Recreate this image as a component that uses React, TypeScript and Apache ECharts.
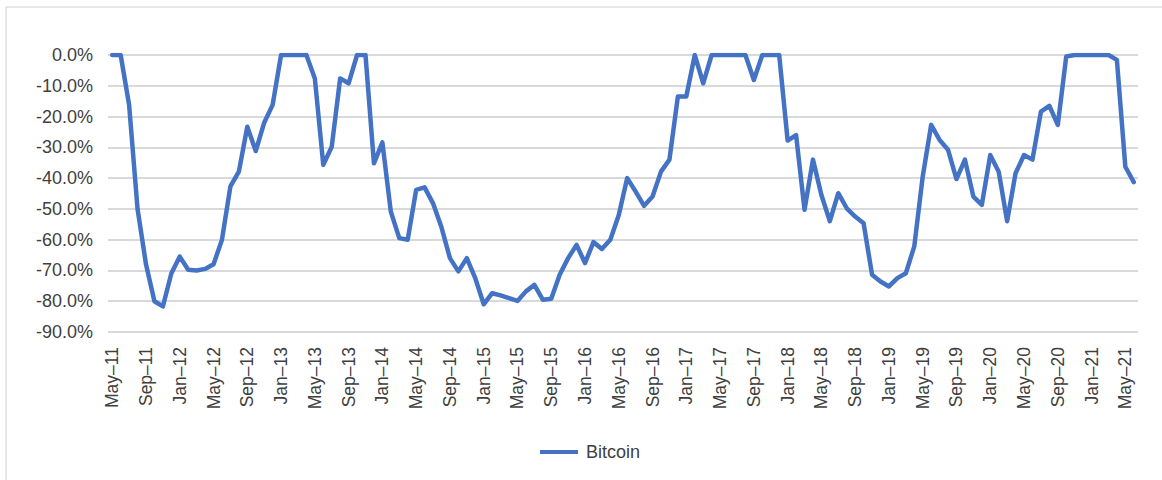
import React, { useEffect, useRef } from "react";
import * as echarts from "echarts";

const MONTHS = ["Jan", "Feb", "Mar", "Apr", "May", "Jun", "Jul", "Aug", "Sep", "Oct", "Nov", "Dec"];
const START_MONTH = 4; // May
const START_YEAR = 11;
const MONTH_COUNT = 122; // May-11 .. Jun-21

const categories: string[] = Array.from({ length: MONTH_COUNT }, (_, i) => {
  const m = START_MONTH + i;
  const y = START_YEAR + Math.floor(m / 12);
  return `${MONTHS[m % 12]}\u2013${y}`;
});

const seriesName = "Bitcoin";

const bitcoin: number[] = [
  0, 0, -16.2, -50, -68, -80, -81.7, -71, -65.5, -69.8,
  -70, -69.5, -68, -60, -42.7, -37.9, -23.3, -31.2, -22, -16.2,
  0, 0, 0, 0, -7.6, -35.7, -29.8, -7.6, -9.2, 0,
  0, -35.2, -28.4, -50.9, -59.5, -60, -43.8, -43, -48.2, -56,
  -66, -70.3, -66, -72.5, -81, -77.4, -78.1, -79, -79.9, -76.8,
  -74.7, -79.5, -79.2, -71.4, -66, -61.7, -67.6, -60.8, -63, -60,
  -52, -40, -44.4, -49, -46, -37.9, -34, -13.5, -13.5, 0,
  -9.2, 0, 0, 0, 0, 0, -8.1, 0, 0, 0,
  -27.8, -26, -50.3, -34, -45.5, -54, -44.9, -49.8, -52.5, -54.7,
  -71.4, -73.6, -75.2, -72.5, -70.9, -62.2, -39.5, -22.7, -27.6, -30.8,
  -40.3, -34, -46, -48.7, -32.5, -37.9, -54, -38.4, -32.5, -34,
  -18.4, -16.5, -22.7, -0.5, 0, 0, 0, 0, 0, -1.6,
  -36.3, -41.3,
];

const Y_MIN = -90;
const Y_MAX = 0;
const Y_STEP = 10;

export default function App() {
  const ref = useRef<HTMLDivElement>(null);

  useEffect(() => {
    if (!ref.current) return;
    const chart = echarts.init(ref.current, null, { renderer: "svg" });
    const font = "Liberation Sans, Arial, Helvetica, sans-serif";
    chart.setOption({
      animation: false,
      backgroundColor: "#ffffff",
      textStyle: { fontFamily: font },
      graphic: [
        {
          type: "rect",
          shape: { x: 6, y: 7, width: 1200, height: 500 },
          style: { fill: "none", stroke: "#d0d0d0", lineWidth: 1 },
          silent: true,
          z: -10,
        },
      ],
      grid: { left: 108, right: 24, top: 55, bottom: 148, containLabel: false },
      legend: {
        data: [seriesName],
        left: 540,
        top: 443,
        padding: 0,
        icon: "rect",
        itemWidth: 38,
        itemHeight: 4,
        itemGap: 10,
        textStyle: { fontSize: 18, color: "#404040", fontFamily: font, padding: [0, 0, 0, 3] },
      },
      xAxis: {
        type: "category",
        data: categories,
        boundaryGap: true,
        axisLine: { show: false },
        axisTick: { show: false },
        splitLine: { show: false },
        axisLabel: {
          interval: 3,
          rotate: 90,
          margin: 15,
          fontSize: 17.5,
          color: "#404040",
          fontFamily: font,
        },
      },
      yAxis: {
        type: "value",
        min: Y_MIN,
        max: Y_MAX,
        interval: Y_STEP,
        axisLine: { show: false },
        axisTick: { show: false },
        splitLine: { show: true, lineStyle: { color: "#d9d9d9", width: 2 } },
        axisLabel: {
          margin: 15,
          fontSize: 18,
          color: "#404040",
          fontFamily: font,
          formatter: (v: number) => `${v.toFixed(1)}%`,
        },
      },
      series: [
        {
          name: seriesName,
          type: "line",
          data: bitcoin,
          showSymbol: false,
          symbol: "none",
          lineStyle: { color: "#4472C4", width: 4.5, cap: "round", join: "round" },
          itemStyle: { color: "#4472C4" },
        },
      ],
    });
    return () => chart.dispose();
  }, []);

  return (
    <div
      ref={ref}
      style={{ position: "fixed", left: 0, top: 0, width: 1162, height: 480 }}
    />
  );
}
